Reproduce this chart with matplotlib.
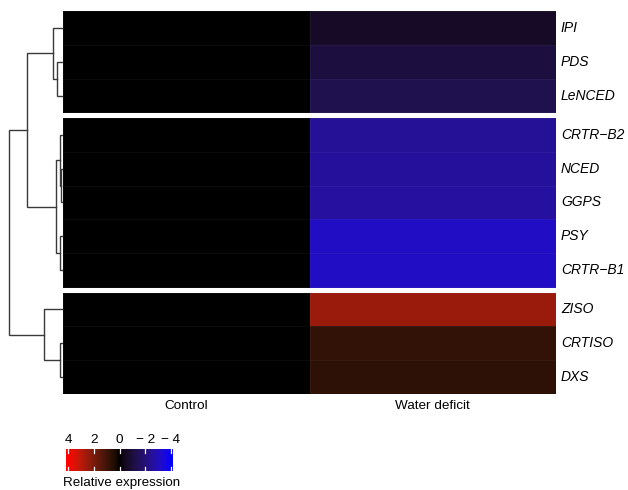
import numpy as np
import matplotlib
matplotlib.use('Agg')
import matplotlib.pyplot as plt
from matplotlib.colors import ListedColormap, Normalize

plt.rcParams['font.family'] = ['Liberation Sans', 'DejaVu Sans']

# data
genes = ['IPI', 'PDS', 'LeNCED', 'CRTR\u2212B2', 'NCED', 'GGPS', 'PSY',
         'CRTR\u2212B1', 'ZISO', 'CRTISO', 'DXS']
conditions = ['Control', 'Water deficit']
control = [0, 0, 0, 0, 0, 0, 0, 0, 0, 0, 0]
water_deficit = [-0.6, -1.05, -1.3, -2.45, -2.55, -2.6, -3.15, -3.15, 2.5, 0.75, 0.7]
cluster_sizes = [3, 5, 3]
# merges (left node, right node, height) in linkage style, leaves 0..10
merges = [(1, 2, 4.5), (0, 11, 8.5), (4, 5, 0.5), (3, 13, 1.5), (6, 7, 1.5),
          (14, 15, 6), (12, 16, 34.5), (9, 10, 1.5), (8, 18, 17.5), (17, 19, 52.5)]
legend_ticks = [4, 2, 0, -2, -4]
legend_labels = ['4', '2', '0', '\u2212 2', '\u2212 4']


# red - black - blue colour ramp interpolated in Lab space
def lab_to_rgb(L, a, b):
    fy = (L + 16) / 116
    fx = fy + a / 500
    fz = fy - b / 200
    finv = lambda f: np.where(f > 6 / 29, f ** 3, 3 * (6 / 29) ** 2 * (f - 4 / 29))
    xyz = np.stack([0.95047 * finv(fx), finv(fy), 1.08883 * finv(fz)])
    M = np.array([[3.2406, -1.5372, -0.4986],
                  [-0.9689, 1.8758, 0.0415],
                  [0.0557, -0.2040, 1.0570]])
    lin = np.clip(M @ xyz, 0, 1)
    srgb = np.where(lin <= 0.0031308, 12.92 * lin, 1.055 * lin ** (1 / 2.4) - 0.055)
    return np.clip(srgb.T, 0, 1)

red_lab = np.array([53.24, 80.09, 67.20])
blue_lab = np.array([32.30, 79.19, -107.86])
t = np.linspace(-1, 1, 257)
lab = np.where(t[:, None] < 0, -t[:, None] * blue_lab, t[:, None] * red_lab)
cmap = ListedColormap(lab_to_rgb(lab[:, 0], lab[:, 1], lab[:, 2]))
norm = Normalize(-4, 4)

W, H = 628, 490
fig = plt.figure(figsize=(W / 100, H / 100), dpi=100)

def px_axes(x0, y0, x1, y1):
    return fig.add_axes([x0 / W, (H - y1) / H, (x1 - x0) / W, (y1 - y0) / H])

# heatmap
gap = 0.165
total = len(genes) + gap * (len(cluster_sizes) - 1)
ax = px_axes(63, 11, 556, 394)
values = np.column_stack([control, water_deficit])
yc = []
start = 0
for c, n in enumerate(cluster_sizes):
    off = start + c * gap
    edges = off + np.arange(n + 1)
    ax.pcolormesh([0, 1, 2], edges, values[start:start + n], cmap=cmap, norm=norm,
                  edgecolors=(0.6, 0.6, 0.6, 0.08), linewidth=0.5)
    yc += list(off + np.arange(n) + 0.5)
    start += n
ax.set_xlim(0, 2)
ax.set_ylim(total, 0)
ax.axis('off')

for g, y in zip(genes, yc):
    ax.annotate(g, xy=(1, y), xycoords=('axes fraction', 'data'), xytext=(3.5, 0),
                textcoords='offset points', ha='left', va='center',
                fontsize=10, fontstyle='italic')
for i, c in enumerate(conditions):
    ax.annotate(c, xy=(i + 0.5, total), xycoords='data', xytext=(0, -4.5),
                textcoords='offset points', ha='center', va='top', fontsize=9.7)

# row dendrogram
dax = px_axes(0, 11, 61.5, 394)
dax.set_xlim(61.5, 0)
dax.set_ylim(total, 0)
dax.axis('off')
pos = {i: (0, y) for i, y in enumerate(yc)}
for k, (a, b, h) in enumerate(merges):
    xa, ya = pos[a]
    xb, yb = pos[b]
    dax.plot([xa, h, h, xb], [ya, ya, yb, yb], color='#3a3a3a', lw=1.0,
             solid_joinstyle='miter', clip_on=False)
    pos[len(genes) + k] = (h, (ya + yb) / 2)

# colour legend
lax = px_axes(66, 449, 173, 471)
lim = 4.16
grad = np.linspace(lim, -lim, 300)
lax.imshow(grad[None, :], extent=(lim, -lim, 0, 1), aspect='auto', cmap=cmap, norm=norm)
for v, lab_txt in zip(legend_ticks, legend_labels):
    lax.plot([v, v], [0, 0.2], color='white', lw=0.9)
    lax.plot([v, v], [0.8, 1], color='white', lw=0.9)
    lax.text(v, 1.12, lab_txt, ha='center', va='bottom', fontsize=9.7)
lax.text(-0.03, -0.25, 'Relative expression', transform=lax.transAxes,
         ha='left', va='top', fontsize=9.6)
lax.set_xlim(lim, -lim)
lax.set_ylim(0, 1)
lax.axis('off')

fig.savefig('out.png', dpi=100)
